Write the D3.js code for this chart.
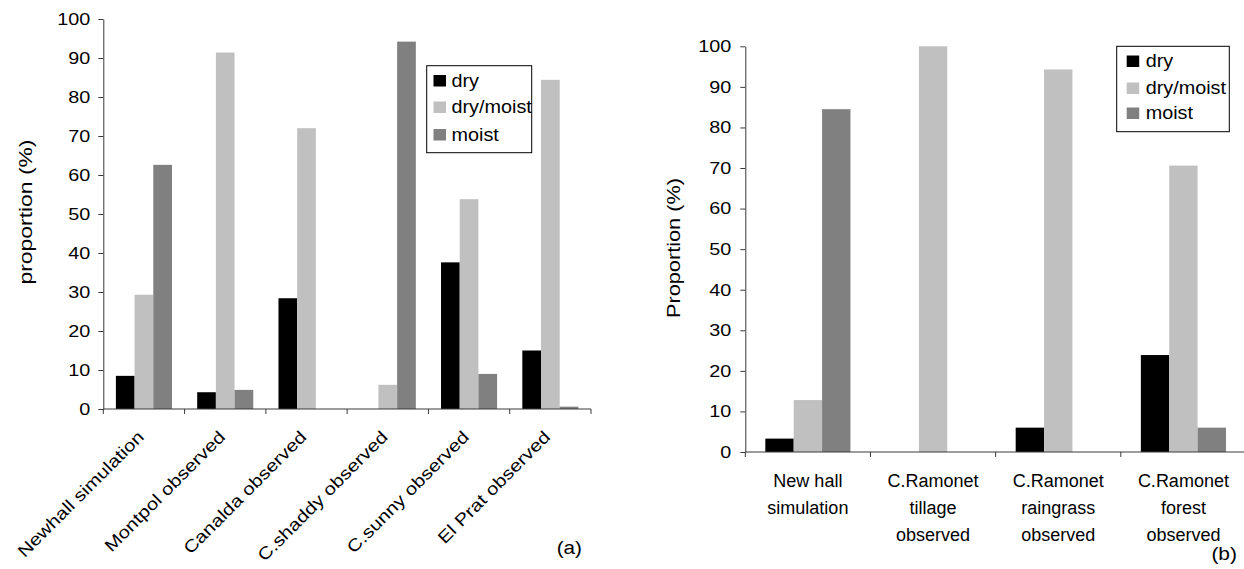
<!DOCTYPE html>
<html>
<head>
<meta charset="utf-8">
<script src="https://cdn.jsdelivr.net/npm/d3@7"></script>
<style>
  html, body { margin: 0; padding: 0; background: #fff; }
  svg { display: block; font-family: "Liberation Sans", Arial, sans-serif; }
</style>
</head>
<body>
<svg id="chart" width="1244" height="569"></svg>
<script>
// ---------- data ----------
const seriesNames = ["dry", "dry/moist", "moist"];
const seriesColors = ["#000000", "#c0c0c0", "#808080"];
const yTicks = [0, 10, 20, 30, 40, 50, 60, 70, 80, 90, 100];

// panel (a)
const categoriesA = ["Newhall simulation", "Montpol observed", "Canalda observed",
                     "C.shaddy observed", "C.sunny observed", "El Prat observed"];
const dryA      = [8.5, 4.3, 28.4, 0, 37.6, 15.0];
const dryMoistA = [29.3, 91.4, 72.0, 6.2, 53.8, 84.4];
const moistA    = [62.6, 4.9, 0, 94.2, 9.0, 0.6];

// panel (b)
const categoriesB = ["New hall simulation", "C.Ramonet tillage observed",
                     "C.Ramonet raingrass observed", "C.Ramonet forest observed"];
const categoryLinesB = [["New hall", "simulation"], ["C.Ramonet", "tillage", "observed"],
                        ["C.Ramonet", "raingrass", "observed"], ["C.Ramonet", "forest", "observed"]];
const dryB      = [3.3, 0, 6.0, 23.9];
const dryMoistB = [12.8, 100, 94.3, 70.6];
const moistB    = [84.5, 0, 0, 6.0];

// ---------- helpers ----------
const svg = d3.select("#chart");
const AXIS_COLOR = "#3a3a3a";

function stretch(sel, f) {
  sel.each(function () {
    const L = this.getComputedTextLength();
    this.setAttribute("textLength", (L * f).toFixed(1));
    this.setAttribute("lengthAdjust", "spacingAndGlyphs");
  });
}

function drawPanel(cfg) {
  const g = svg.append("g");
  const rows = cfg.categories.map((c, i) => ({
    cat: c, values: cfg.series.map((s, k) => ({ key: seriesNames[k], v: s[i], k }))
  }));

  const x0 = d3.scaleBand().domain(cfg.categories).range(cfg.xRange)
    .paddingInner(cfg.padInner).paddingOuter(cfg.padInner / 2);
  const x1 = d3.scaleBand().domain(seriesNames).range([0, x0.bandwidth()]).padding(0);
  const y = d3.scaleLinear().domain([0, 100]).range(cfg.yRange);

  // bars
  const grp = g.selectAll("g.grp").data(rows).join("g")
    .attr("transform", d => `translate(${x0(d.cat)},0)`);
  grp.selectAll("rect").data(d => d.values.filter(v => v.v > 0)).join("rect")
    .attr("x", d => x1(d.key))
    .attr("width", x1.bandwidth())
    .attr("y", d => y(d.v))
    .attr("height", d => y(0) - y(d.v))
    .attr("fill", d => seriesColors[d.k]);

  // y axis
  const ya = g.append("g").attr("transform", `translate(${cfg.xRange[0]},0)`)
    .call(d3.axisLeft(y).tickValues(yTicks).tickSize(5).tickSizeOuter(0).tickPadding(cfg.tickPad));
  ya.attr("font-family", "Liberation Sans, Arial, sans-serif");
  ya.select(".domain").attr("stroke", AXIS_COLOR);
  ya.selectAll(".tick line").attr("stroke", AXIS_COLOR);
  ya.selectAll(".tick text").attr("font-size", cfg.tickFont).attr("fill", "#000");
  stretch(ya.selectAll(".tick text"), cfg.tickStretch);

  // x axis line + boundary ticks
  const step = x0.step();
  const y0 = y(0);
  g.append("line").attr("x1", cfg.xRange[0]).attr("x2", cfg.xRange[1])
    .attr("y1", y0).attr("y2", y0).attr("stroke", AXIS_COLOR);
  const bounds = d3.range(cfg.categories.length + 1).map(i => x0.range()[0] + i * step);
  g.selectAll("line.xt").data(bounds).join("line").attr("class", "xt")
    .attr("x1", d => d).attr("x2", d => d).attr("y1", y0).attr("y2", y0 + 5)
    .attr("stroke", AXIS_COLOR);

  // y label
  const yl = g.append("text")
    .attr("transform", `translate(${cfg.yLabelX},${cfg.yLabelY}) rotate(-90)`)
    .attr("text-anchor", "middle").attr("font-size", 19).text(cfg.yLabel);
  yl.attr("textLength", cfg.yLabelLen).attr("lengthAdjust", "spacingAndGlyphs");

  // legend
  const lg = g.append("g");
  lg.append("rect").attr("x", cfg.legend.x).attr("y", cfg.legend.y)
    .attr("width", cfg.legend.w).attr("height", cfg.legend.h)
    .attr("fill", "#fff").attr("stroke", "#000").attr("stroke-width", 1);
  seriesNames.forEach((s, k) => {
    const cy = cfg.legend.rowY[k];
    lg.append("rect").attr("x", cfg.legend.sx).attr("y", cy - 5.5)
      .attr("width", 12.5).attr("height", 11.5).attr("fill", seriesColors[k]);
    const t = lg.append("text").attr("x", cfg.legend.tx).attr("y", cy + 6)
      .attr("font-size", 18).text(s);
    stretch(t, 1.1);
  });

  return { g, x0, y };
}

// ---------- panel (a) ----------
const A = drawPanel({
  categories: categoriesA, series: [dryA, dryMoistA, moistA],
  xRange: [103.3, 591], yRange: [409, 19], padInner: 0.31,
  tickPad: 8, tickFont: 16.5, tickStretch: 1.2,
  yLabel: "proportion (%)", yLabelX: 32, yLabelY: 212, yLabelLen: 145,
  legend: { x: 426.7, y: 65.7, w: 105, h: 87, sx: 433.5, tx: 451.5, rowY: [80.5, 107, 134.5] }
});
A.g.selectAll("text.xl").data(categoriesA).join("text").attr("class", "xl")
  .attr("transform", d => `translate(${A.x0(d) + A.x0.bandwidth() / 2 + 1},438) rotate(-45)`)
  .attr("text-anchor", "end").attr("font-size", 17).text(d => d)
  .call(s => stretch(s, 1.2));
A.g.append("text").attr("x", 582).attr("y", 554).attr("text-anchor", "end")
  .attr("font-size", 18).text("(a)").call(s => stretch(s, 1.15));

// ---------- panel (b) ----------
const B = drawPanel({
  categories: categoriesB, series: [dryB, dryMoistB, moistB],
  xRange: [745.3, 1246], yRange: [452, 46.3], padInner: 0.32,
  tickPad: 9, tickFont: 16.5, tickStretch: 1.2,
  yLabel: "Proportion (%)", yLabelX: 680, yLabelY: 248, yLabelLen: 140,
  legend: { x: 1116.7, y: 46.3, w: 112.6, h: 85.4, sx: 1126.7, tx: 1145.7, rowY: [61, 88, 113] }
});
const lineBase = [486.7, 514, 540.5];
B.g.selectAll("text.xl").data(categoriesB).join("text").attr("class", "xl")
  .attr("text-anchor", "middle").attr("font-size", 18)
  .each(function (d, i) {
    const cx = B.x0(d) + B.x0.bandwidth() / 2;
    d3.select(this).selectAll("tspan").data(categoryLinesB[i]).join("tspan")
      .attr("x", cx).attr("y", (t, j) => lineBase[j]).text(t => t);
  });
B.g.append("text").attr("x", 1237).attr("y", 560).attr("text-anchor", "end")
  .attr("font-size", 19).text("(b)").call(s => stretch(s, 1.1));
</script>
</body>
</html>
